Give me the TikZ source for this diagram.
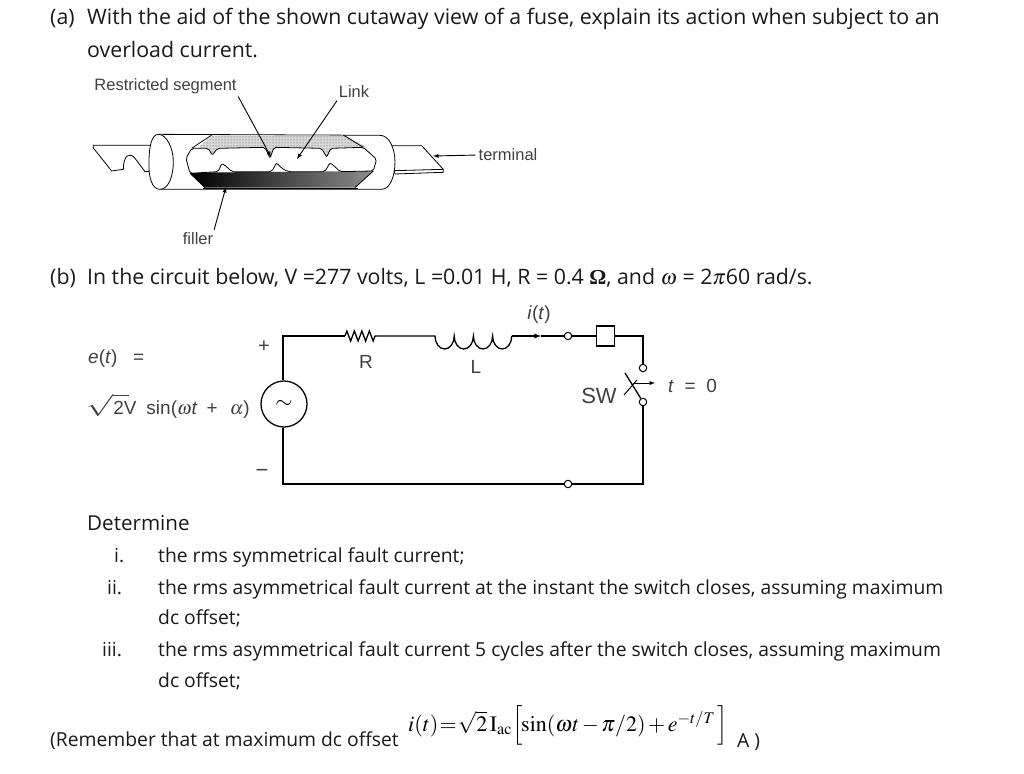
\documentclass[tikz,border=0pt]{standalone}
\usepackage{mathptmx}
\usepackage[no-math]{fontspec}
\setmainfont{Open Sans}
\newfontfamily\labelfont{Liberation Sans}
\newfontfamily\timesfont{Liberation Serif}
\usetikzlibrary{patterns,decorations.pathmorphing}
\begin{document}
\begin{tikzpicture}[
    x=1pt, y=-1pt,
    textline/.style={anchor=base west, inner sep=0pt, font=\fontsize{19.3}{23}\selectfont, text=black!90},
    headline/.style={textline, font=\fontsize{21.3}{25}\selectfont},
    figlabel/.style={inner sep=0pt, font=\labelfont\fontsize{16.5}{20}\selectfont, text=black!75},
    cctlabel/.style={figlabel, font=\labelfont\fontsize{19}{22}\selectfont},
    wire/.style={line width=1.3pt},
    terminalnode/.style={circle, draw, fill=white, line width=1pt, minimum size=7.5pt, inner sep=0pt},
    outline/.style={line width=0.8pt, fill=white},
    stipple/.style={fill=black!15, postaction={pattern=dots, pattern color=black!75}},
    leader/.style={->, >=latex, line width=0.9pt, shorten <=3pt}
]
    \useasboundingbox (0,0) rectangle (1024,773);

    % question text
    \node[headline] (parta) at (50,25) {(a)};
    \node[headline] (partatext) at (87,25) {With the aid of the shown cutaway view of a fuse, explain its action when subject to an};
    \node[headline] (partaline) at (87,58) {overload current.};
    \node[headline] (partb) at (50,284) {(b)};
    \node[headline] (partbtext) at (87,284) {In the circuit below, V =277 volts, L =0.01 H, R = 0.4 {\timesfont\bfseries Ω}, and $\omega$ = 2$\pi$60 rad/s.};
    \node[textline, font=\fontsize{20.6}{25}\selectfont] (determine) at (87,530) {Determine};
    \node[textline] (itemone) at (114,562) {i.};
    \node[textline] (itemonetext) at (158,562) {the rms symmetrical fault current;};
    \node[textline] (itemtwo) at (107,594) {ii.};
    \node[textline] (itemtwotext) at (158,594) {the rms asymmetrical fault current at the instant the switch closes, assuming maximum};
    \node[textline] (itemtwoline) at (158,624) {dc offset;};
    \node[textline] (itemthree) at (102,656) {iii.};
    \node[textline] (itemthreetext) at (158,656) {the rms asymmetrical fault current 5 cycles after the switch closes, assuming maximum};
    \node[textline] (itemthreeline) at (158,687) {dc offset;};
    \node[textline] (remember) at (50,746) {(Remember that at maximum dc offset};
    \node[anchor=base west, inner sep=0pt, font=\timesfont\fontsize{22}{26}\selectfont] (formula) at (408,731)
        {\medmuskip=2mu\thickmuskip=1mu$i(t)=\sqrt{2}\,\mathrm{I}_{\mathrm{ac}}\Big[\mkern-3mu\sin(\omega t-\pi/2)+e^{-t/T}\mkern2mu\Big]$};
    \node[textline] (closing) at (737,747) {A )};

    % fuse, drawn in zoomed coordinates
    \begin{scope}[shift={(80,70)}, x=0.3333pt, y=-0.3333pt]
        % terminals
        \draw[outline] (40,226) -- (215,226) -- (265,300) -- (195,305) -- (165,265)
            .. controls (150,245) and (130,255) .. (130,298) -- (95,303) -- (40,234) -- cycle;
        \draw[outline] (925,227) -- (1025,227) -- (1090,298) -- (1090,307) -- (945,312) -- cycle;
        \draw[line width=0.8pt] (945,302) -- (1090,298);
        % tube
        \draw[outline] (235,193) -- (900,196) .. controls (930,196) and (945,240) .. (945,275)
            .. controls (945,320) and (930,358) .. (905,358) -- (240,358)
            .. controls (215,358) and (205,320) .. (207,275) .. controls (207,230) and (215,193) .. (235,193) -- cycle;
        \draw[outline] (235,193) .. controls (260,193) and (280,235) .. (280,275)
            .. controls (280,320) and (265,358) .. (240,358);
        % filler above and below the link
        \path[stipple] (395,197) -- (790,197) -- (850,225) -- (880,265) -- (320,265) -- cycle;
        \shade[left color=black, right color=black!45] (330,308) -- (880,303) -- (825,353) -- (375,353) -- cycle;
        % link
        \draw[outline, rounded corners=2pt] (335,235) -- (385,235) -- (397,256) -- (412,235) -- (555,232) -- (570,265) -- (582,232)
            -- (725,235) -- (740,262) -- (752,235) -- (850,232) -- (890,268) -- (880,303)
            -- (780,305) -- (765,290) -- (750,278) -- (735,305) -- (625,305) -- (605,295) -- (590,278) -- (575,305)
            -- (455,305) -- (440,290) -- (425,280) -- (415,305) -- (330,310) -- (318,265) -- cycle;
        \draw[line width=0.8pt] (395,195) -- (335,235);
        \draw[line width=0.8pt] (790,195) -- (850,232);
        \draw[line width=0.8pt] (330,310) -- (375,353);
        \draw[line width=0.8pt] (880,303) -- (825,353);
        \draw[line width=1.3pt] (370,356) -- (835,356);
    \end{scope}

    % fuse labels
    \node[figlabel] (seglabel) at (165.5,86) {Restricted segment};
    \node[figlabel] (linklabel) at (354,92) {Link};
    \node[figlabel] (termlabel) at (508,155) {terminal};
    \node[figlabel] (fillerlabel) at (198,239) {filler};
    \coordinate (segtip) at (271,157);
    \coordinate (linktip) at (297,159);
    \coordinate (termtip) at (433,156);
    \coordinate (fillertip) at (226,187);
    \draw[leader] (seglabel.south east) -- (segtip);
    \draw[leader] (linklabel.south west) -- (linktip);
    \draw[leader] (termlabel.west) -- (termtip);
    \draw[leader] (fillerlabel.north east) -- (fillertip);

    % circuit
    \node[circle, draw, wire, minimum size=46pt, inner sep=0pt] (src) at (284,404) {\scalebox{2.2}{$\sim$}};
    \coordinate (topleft) at (283,336);
    \coordinate (botleft) at (283,484);
    \coordinate (topright) at (643,336);
    \coordinate (botright) at (643,484);
    \coordinate (resa) at (345,336);
    \coordinate (resb) at (376,336);
    \coordinate (inda) at (435,336);
    \coordinate (arrowtip) at (541,336);
    \node[terminalnode] (termtop) at (568,336) {};
    \node[terminalnode] (termbot) at (568,484) {};
    \node[terminalnode] (swtop) at (643,368) {};
    \node[terminalnode] (swbot) at (643,402) {};
    \node[draw, fill=white, line width=1.8pt, minimum width=18pt, minimum height=20pt, inner sep=0pt] (fusebox) at (605.5,336) {};
    \coordinate (bladeend) at (625,373);
    \coordinate (crossa) at (624,395);
    \coordinate (crossb) at (637,380);
    \coordinate (pusha) at (633,383);
    \coordinate (pushb) at (655,383);

    \draw[wire] (src.north -| topleft) -- (topleft) -- (resa);
    \draw[wire, decorate, decoration={zigzag, segment length=7.5pt, amplitude=5pt}] (resa) -- (resb);
    \draw[wire] (resb) -- (inda)
        arc[start angle=180, end angle=360, x radius=9.6pt, y radius=13pt]
        arc[start angle=180, end angle=360, x radius=9.6pt, y radius=13pt]
        arc[start angle=180, end angle=360, x radius=9.6pt, y radius=13pt]
        arc[start angle=180, end angle=360, x radius=9.6pt, y radius=13pt]
        coordinate (indb);
    \draw[wire, ->, >=latex] (indb) -- (arrowtip);
    \draw[wire] (arrowtip) -- (termtop);
    \draw[wire] (termtop) -- (fusebox);
    \draw[wire] (fusebox) -- (topright) -- (swtop);
    \draw[wire] (swbot) -- (botright) -- (termbot);
    \draw[wire] (termbot) -- (botleft) -- (src.south -| botleft);
    \draw[wire] (bladeend) -- (swbot);
    \draw[line width=1pt] (crossa) -- (crossb);
    \draw[line width=0.9pt, ->, >=latex] (pusha) -- (pushb);

    % circuit labels
    \node[cctlabel] (rlabel) at (366,362) {R};
    \node[cctlabel] (llabel) at (476,367) {L};
    \node[cctlabel] (ilabel) at (539,315) {\textit{i}(\textit{t})};
    \node[cctlabel, font=\labelfont\fontsize{22}{26}\selectfont] (swlabel) at (599,396) {SW};
    \node[cctlabel, anchor=west] (tlabel) at (668,386) {\textit{t}\ \ =\ \ 0};
    \node[cctlabel, font=\labelfont\fontsize{20}{24}\selectfont] (plus) at (264,347) {+};
    \node[cctlabel, font=\labelfont\fontsize{22}{26}\selectfont] (minus) at (262,473) {−};
    \node[cctlabel, anchor=west] (elabel) at (88,359) {\textit{e}(\textit{t})\ \ \ =};
    \node[cctlabel, anchor=west] (vlabel) at (86,406) {\scalebox{1.7}[1.15]{$\sqrt{\phantom{2}}$}\hspace{-16pt}2V\hspace{10pt}sin($\omega$\textit{t}\hspace{9pt}+\hspace{12pt}$\alpha$)};
\end{tikzpicture}
\end{document}
